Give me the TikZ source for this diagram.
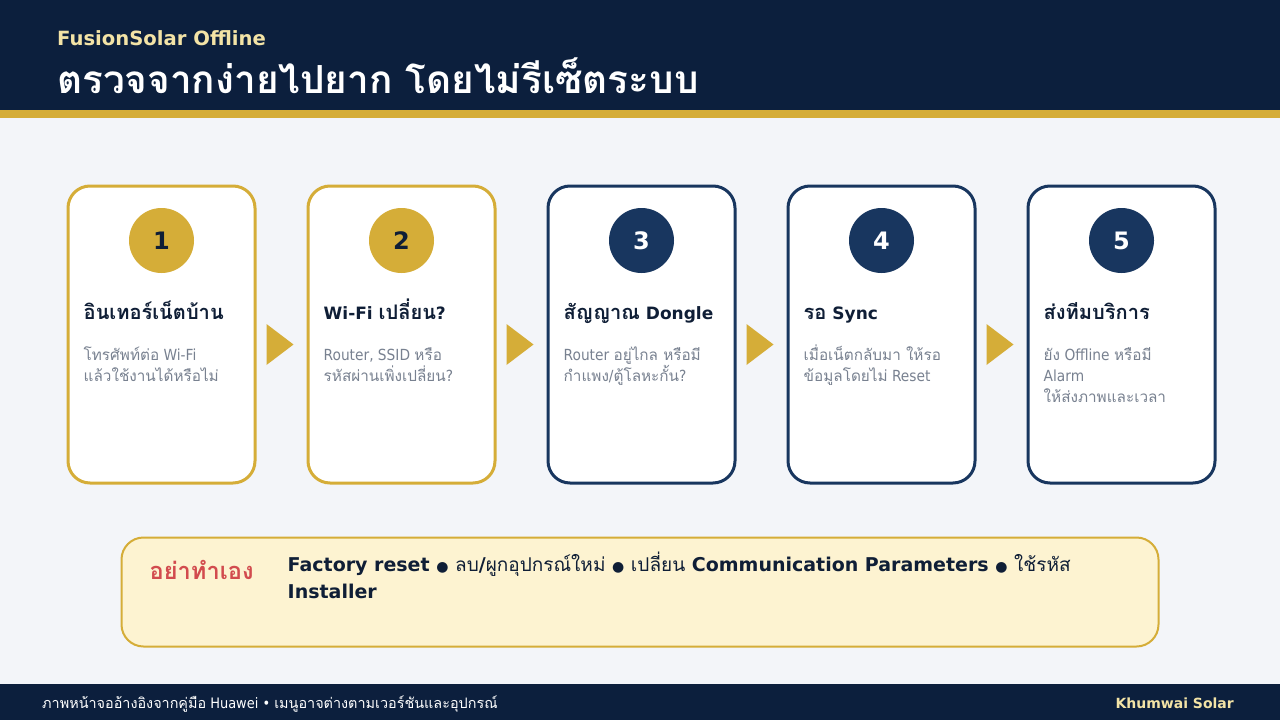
\documentclass[tikz,border=0pt]{standalone}
\usepackage{fontspec}
\setmainfont{DejaVu Sans Condensed}[BoldFont={DejaVu Sans Bold}]
\newfontfamily\thaifont[Script=Thai, BoldFeatures={Scale=1.18}]{Loma}
\newcommand\T[1]{{\thaifont #1}}
\newcommand\bul{{\fontsize{14}{14}\selectfont ●}}
\usetikzlibrary{calc}
\definecolor{navy}{HTML}{0C1F3D}
\definecolor{cardnavy}{HTML}{18365F}
\definecolor{gold}{HTML}{D5AD38}
\definecolor{palegold}{HTML}{F3E3A6}
\definecolor{darktext}{HTML}{0F1E36}
\definecolor{graytext}{HTML}{788190}
\definecolor{redtext}{HTML}{D24B4E}
\definecolor{warnfill}{HTML}{FDF3D1}
\definecolor{bgcol}{HTML}{F3F5F9}
\tikzset{
  card/.style={draw, line width=3pt, fill=white, rounded corners=22pt, minimum width=187pt, minimum height=297pt, inner sep=0pt},
  goldcard/.style={card, draw=gold},
  navycard/.style={card, draw=cardnavy},
  num/.style={circle, minimum size=65pt, inner sep=0pt, font=\bfseries\fontsize{24}{24}\selectfont},
  goldnum/.style={num, fill=gold, text=darktext},
  navynum/.style={num, fill=cardnavy, text=white},
  ttl/.style={anchor=base west, inner sep=0pt, text=darktext, font=\bfseries\fontsize{17}{20}\selectfont},
  desc/.style={anchor=base west, inner sep=0pt, text=graytext, align=left, font=\fontsize{15.3}{21}\selectfont},
  arrowtri/.style={fill=gold},
}
\begin{document}
\begin{tikzpicture}[x=1pt,y=-1pt]
\useasboundingbox (0,0) rectangle (1280,720);
\fill[bgcol] (0,0) rectangle (1280,720);
\fill[navy] (0,0) rectangle (1280,110);
\fill[gold] (0,110) rectangle (1280,118);
\fill[navy] (0,684) rectangle (1280,720);

\node[anchor=base west, inner sep=0pt, text=palegold, font=\bfseries\fontsize{19.6}{24}\selectfont] (sub) at (57,45) {FusionSolar Offline};
\node[anchor=base west, inner sep=0pt, text=white, font=\bfseries\fontsize{32.8}{36}\selectfont] (title) at (57,93) {\T{ตรวจจากง่ายไปยาก โดยไม่รีเซ็ตระบบ}};

% cards
\node[goldcard] (c1) at (161.5,334.5) {};
\node[goldcard] (c2) at (401.5,334.5) {};
\node[navycard] (c3) at (641.5,334.5) {};
\node[navycard] (c4) at (881.5,334.5) {};
\node[navycard] (c5) at (1121.5,334.5) {};

\node[goldnum] (n1) at ($(c1.north)+(0,56)$) {1};
\node[goldnum] (n2) at ($(c2.north)+(0,56)$) {2};
\node[navynum] (n3) at ($(c3.north)+(0,56)$) {3};
\node[navynum] (n4) at ($(c4.north)+(0,56)$) {4};
\node[navynum] (n5) at ($(c5.north)+(0,56)$) {5};

\node[ttl] (t1) at ($(c1.north west)+(17,135)$) {\T{อินเทอร์เน็ตบ้าน}};
\node[ttl] (t2) at ($(c2.north west)+(17,135)$) {Wi-Fi \T{เปลี่ยน}?};
\node[ttl] (t3) at ($(c3.north west)+(17,135)$) {\T{สัญญาณ} Dongle};
\node[ttl] (t4) at ($(c4.north west)+(17,135)$) {\T{รอ} Sync};
\node[ttl] (t5) at ($(c5.north west)+(17,135)$) {\T{ส่งทีมบริการ}};

% base anchor of a multi-line node = baseline of its last line
\node[desc] (d1) at ($(c1.north west)+(17,197)$) {\T{โทรศัพท์ต่อ} Wi-Fi\\\T{แล้วใช้งานได้หรือไม่}};
\node[desc] (d2) at ($(c2.north west)+(17,197)$) {Router, SSID \T{หรือ}\\\T{รหัสผ่านเพิ่งเปลี่ยน}?};
\node[desc] (d3) at ($(c3.north west)+(17,197)$) {Router \T{อยู่ไกล หรือมี}\\\T{กำแพง}/\T{ตู้โลหะกั้น}?};
\node[desc] (d4) at ($(c4.north west)+(17,197)$) {\T{เมื่อเน็ตกลับมา ให้รอ}\\\T{ข้อมูลโดยไม่} Reset};
\node[desc] (d5) at ($(c5.north west)+(17,218)$) {\T{ยัง} Offline \T{หรือมี}\\Alarm\\\T{ให้ส่งภาพและเวลา}};

% arrows between cards
\foreach \a/\b in {c1/c2,c2/c3,c3/c4,c4/c5}{
  \fill[arrowtri] ($(\a.east)+(10,-10.5)$) -- ($(\a.east)+(37,10)$) -- ($(\a.east)+(10,30.5)$) -- cycle;
}

% warning box
\node[draw=gold, line width=2pt, fill=warnfill, rounded corners=22pt, minimum width=1037pt, minimum height=109pt, inner sep=0pt] (w) at (640,592) {};
\node[anchor=base west, inner sep=0pt, text=redtext, font=\bfseries\fontsize{20}{24}\selectfont] (wl) at ($(w.north west)+(29,43)$) {\T{อย่าทำเอง}};
\node[anchor=base west, inner sep=0pt, text=darktext, align=left, font=\bfseries\fontsize{19}{27}\selectfont] (wt) at ($(w.north west)+(167,62)$) {Factory reset \bul{} \T{\mdseries ลบ}/\T{\mdseries ผูกอุปกรณ์ใหม่} \bul{} \T{\mdseries เปลี่ยน} Communication Parameters \bul{} \T{\mdseries ใช้รหัส}\\Installer};

% footer
\node[anchor=base west, inner sep=0pt, text=white, font=\fontsize{14.4}{16}\selectfont] (fl) at (42,708) {\T{ภาพหน้าจออ้างอิงจากคู่มือ} Huawei • \T{เมนูอาจต่างตามเวอร์ชันและอุปกรณ์}};
\node[anchor=base east, inner sep=0pt, text=palegold, font=\bfseries\fontsize{14}{16}\selectfont] (fr) at (1234,708) {Khumwai Solar};
\end{tikzpicture}
\end{document}
